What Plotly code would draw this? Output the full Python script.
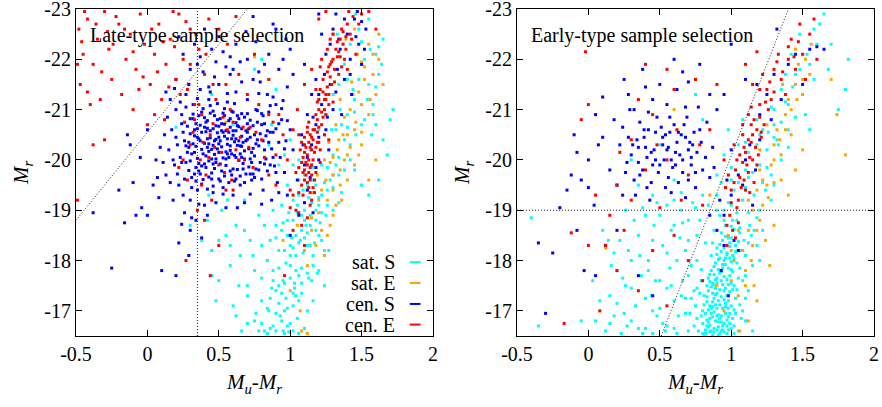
import plotly.graph_objects as go

# ---- data (M_u - M_r , M_r)
# left panel : late-type sample selection
late_satS = [
    (0.75,-16.8),(0.8,-17.2),(0.82,-16.6),(0.85,-17.0),(0.88,-16.7),(0.9,-17.4),(0.93,-16.9),(0.95,-16.6),(0.97,-17.25),(1.0,-16.75),
    (1.02,-17.1),(1.05,-16.85),(1.08,-17.35),(1.1,-16.65),(0.87,-17.45),(0.92,-17.15),(0.99,-16.58),(1.03,-17.45),(0.78,-16.6),(1.12,-17.0),
    (0.84,-16.55),(0.96,-17.0),(0.7,-17.5),(0.66,-16.6),(0.62,-16.9),(1.15,-17.6),
    (0.42,-18.8),(0.45,-18.2),(0.5,-17.6),(0.55,-18.5),(0.58,-17.9),(0.62,-18.7),(0.65,-18.1),(0.7,-17.3),(0.72,-18.4),(0.75,-17.8),
    (0.78,-18.9),(0.8,-18.3),(0.48,-17.2),(0.38,-18.4),(0.52,-19.0),(0.6,-17.1),(0.68,-19.2),(0.35,-19.0),(0.3,-18.7),(0.43,-19.3),(0.56,-19.2),
    (0.88,-17.8),(0.92,-18.2),(0.95,-17.6),(0.98,-18.5),(1.0,-17.9),(1.02,-18.8),(1.04,-18.1),(1.06,-17.7),(1.08,-18.6),(1.1,-19.0),
    (1.12,-18.3),(1.14,-18.9),(1.16,-17.9),(1.18,-18.6),(1.2,-19.1),(1.22,-18.4),(1.25,-18.9),(1.27,-18.2),(0.9,-18.7),(0.94,-19.1),
    (0.97,-17.95),(1.01,-18.45),(1.05,-18.95),(1.09,-18.15),(1.13,-17.65),(1.17,-18.35),(1.21,-18.75),(1.03,-17.55),(0.99,-18.95),(1.07,-18.4),
    (1.11,-18.7),(1.15,-19.15),(1.19,-17.75),(0.86,-18.4),(1.3,-19.0),(1.24,-17.5),
    (0.98,-19.5),(1.02,-19.9),(1.06,-19.3),(1.1,-19.7),(1.14,-20.2),(1.18,-19.5),(1.22,-19.9),(1.26,-19.4),(1.3,-20.1),(1.34,-19.7),
    (1.38,-20.4),(1.42,-20.0),(1.24,-20.5),(1.28,-19.6),(1.32,-20.6),(1.2,-19.25),(1.36,-19.35),(1.16,-19.85),(1.4,-20.65),(1.45,-19.8),
    (1.0,-20.4),(0.92,-19.9),(0.85,-20.3),(1.5,-19.5),(1.55,-19.3),
    (1.25,-20.9),(1.3,-21.3),(1.35,-21.0),(1.4,-21.6),(1.45,-21.2),(1.5,-21.9),(1.55,-21.5),(1.6,-22.1),(1.42,-22.3),(1.48,-22.6),
    (1.52,-20.8),(1.58,-21.1),(1.62,-21.7),(1.38,-21.9),(1.33,-22.5),(1.65,-22.4),(1.55,-22.8),(1.45,-20.95),(1.57,-20.5),(1.6,-20.7),
    (1.65,-20.4),(1.62,-19.6),(1.7,-20.8),
    (0.45,-21.3),(0.6,-20.7),(0.75,-21.8),(0.8,-22.0),(0.9,-21.4),(0.2,-20.65),(0.87,-20.7),
    (0.9,-16.6),(0.94,-16.8),(0.98,-17.05),(1.02,-16.6),(1.06,-17.2),(0.86,-17.25),(0.92,-17.5),(1.0,-17.65),(1.04,-17.8),(1.08,-17.55),
    (0.96,-18.2),(1.0,-18.3),(1.04,-18.5),(1.08,-18.9),(1.12,-18.55),(1.16,-18.1),(1.2,-18.5),(1.24,-18.2),(1.1,-18.45),(1.14,-18.7),
    (1.18,-19.0),(1.22,-19.3),(1.26,-19.1),(1.3,-19.45),(1.34,-19.15),(1.02,-19.2),(1.06,-19.6),(1.12,-19.5),(1.26,-19.85),(1.3,-19.7),
    (1.34,-20.05),(1.38,-19.8),(1.42,-20.3),(1.46,-20.5),(1.36,-20.7),(1.4,-20.9),(1.44,-21.4),(1.48,-21.6),(1.52,-22.0),(1.56,-22.2),
    (1.34,-21.5),(1.29,-20.6),(1.5,-20.7),(1.54,-21.2),(1.58,-20.9),(1.6,-21.45),(1.62,-22.25),(1.64,-21.9),(1.46,-22.9),(1.5,-22.35),
    (0.58,-18.3),(0.64,-17.5),(0.68,-18.6),(0.74,-18.1),(0.8,-17.65),(0.84,-18.0),(0.76,-16.95),(0.7,-16.75),(0.88,-19.0),(0.82,-18.7),
    (0.95,-18.75),(1.16,-19.6),(1.06,-20.0),(0.96,-20.1),(1.2,-20.6),(1.16,-17.2),(1.2,-17.8),(0.5,-18.4),(0.45,-17.7),(1.68,-20.1),(1.72,-21.0),
    (0.86,-16.65),(0.9,-16.95),(0.94,-17.35),(0.98,-16.7),(1.02,-17.35),(1.06,-16.55),(0.88,-17.6),(0.92,-17.85),(0.96,-17.55),(1.0,-18.1),
    (1.04,-17.3),(1.08,-17.85),(0.9,-18.45),(0.94,-18.6),(0.98,-18.8),(1.02,-18.25),(1.06,-18.35),(1.1,-18.8),(1.14,-18.3),(1.18,-18.8),
    (1.22,-18.95),(0.84,-17.05),(0.8,-16.75),(0.96,-16.55),(1.12,-17.75),(1.05,-19.1),(1.09,-19.4),(1.13,-19.25),(1.24,-19.55),(1.32,-19.9),
]
late_satE = [
    (1.2,-19.2),(1.25,-19.6),(1.28,-19.95),(1.3,-19.4),(1.33,-20.2),(1.35,-19.8),(1.37,-20.5),(1.4,-20.1),(1.3,-18.9),(1.22,-18.6),
    (1.18,-18.3),(1.15,-18.85),(1.26,-18.5),(1.1,-18.2),(1.05,-18.7),(1.12,-17.9),(1.38,-20.85),(1.42,-21.0),(1.45,-20.6),(1.48,-21.35),
    (1.5,-21.1),(1.52,-21.6),(1.55,-20.9),(1.58,-21.7),(1.5,-21.95),(1.47,-22.1),(1.43,-21.55),(1.55,-22.3),(1.6,-21.3),(1.62,-22.0),
    (1.65,-21.5),(1.35,-21.2),(1.32,-20.7),(1.27,-20.35),(1.24,-20.0),(1.4,-19.6),(1.45,-19.9),(1.36,-19.2),(1.19,-19.7),(1.16,-19.35),
    (1.08,-16.6),(1.12,-16.55),(1.0,-17.4),(1.07,-17.0),(0.95,-18.4),(0.7,-20.6),(0.75,-22.05),(0.55,-20.75),(1.5,-20.3),(1.55,-19.6),
    (1.6,-20.0),(1.3,-22.5),(1.39,-22.4),
    (1.22,-19.4),(1.26,-19.2),(1.3,-19.7),(1.34,-20.4),(1.38,-20.0),(1.42,-20.25),(1.46,-20.75),(1.5,-20.55),(1.44,-21.3),(1.52,-21.85),
    (1.56,-21.2),(1.35,-19.5),(1.28,-18.7),(1.2,-18.95),(1.15,-18.6),(1.24,-18.1),(1.4,-20.5),(1.3,-20.05),(1.32,-19.1),(1.48,-20.1),
    (1.58,-22.1),(1.62,-22.5),(1.45,-22.6),
]
late_cenS = [
    (0.31,-20.12),(0.35,-20.45),(0.38,-19.88),(0.42,-20.63),(0.45,-20.21),(0.48,-19.95),(0.51,-20.38),(0.54,-20.71),(0.57,-20.05),(0.6,-20.49),
    (0.63,-19.81),(0.66,-20.27),(0.69,-20.58),(0.72,-20.02),(0.28,-20.67),(0.33,-19.72),(0.36,-20.88),(0.4,-20.33),(0.43,-19.66),(0.46,-20.97),
    (0.49,-20.54),(0.52,-19.78),(0.55,-20.16),(0.58,-20.82),(0.61,-20.09),(0.64,-20.66),(0.67,-19.93),(0.7,-20.41),(0.27,-19.95),(0.3,-20.52),
    (0.34,-20.27),(0.37,-20.69),(0.41,-20.08),(0.44,-20.44),(0.47,-19.83),(0.5,-20.15),(0.53,-20.93),(0.56,-20.31),(0.59,-19.7),(0.62,-20.74),
    (0.65,-20.12),(0.68,-20.85),(0.74,-20.23),(0.26,-20.38),(0.32,-20.91),(0.39,-19.61),(0.42,-20.78),(0.46,-20.29),(0.5,-20.67),(0.53,-20.04),
    (0.57,-20.55),(0.61,-20.36),(0.64,-19.99),(0.68,-20.18),(0.72,-20.79),(0.75,-20.5),(0.29,-19.79),(0.35,-20.03),(0.44,-20.93),(0.48,-20.41),
    (0.52,-20.26),(0.55,-19.89),(0.59,-20.97),(0.63,-20.29),(0.66,-20.47),(0.71,-19.86),(0.38,-20.21),(0.41,-20.56),(0.47,-20.11),(0.51,-19.92),
    (0.58,-20.19),(0.62,-20.58),(0.45,-19.74),(0.36,-19.93),(0.54,-20.47),(0.4,-20.84),(0.33,-20.6),(0.6,-20.95),(0.49,-20.8),(0.43,-20.17),
    (0.17,-20.6),(0.19,-19.9),(0.21,-20.3),(0.2,-21.0),(0.22,-19.5),(0.24,-20.9),(0.25,-19.3),(0.27,-21.3),(0.3,-19.2),(0.32,-21.1),
    (0.35,-19.4),(0.37,-21.4),(0.4,-19.1),(0.43,-21.2),(0.46,-19.35),(0.5,-21.5),(0.53,-19.45),(0.56,-21.15),(0.6,-19.3),(0.62,-21.35),
    (0.65,-19.5),(0.7,-21.2),(0.73,-19.6),(0.76,-21.0),(0.78,-19.8),(0.8,-20.7),(0.82,-20.2),(0.84,-21.3),(0.86,-19.9),(0.88,-20.55),
    (0.9,-21.1),(0.92,-20.35),(0.94,-20.8),(0.96,-19.75),(0.98,-21.45),(1.0,-20.6),(0.79,-21.55),(0.85,-20.95),(0.91,-19.55),(0.77,-20.4),
    (0.81,-19.4),(0.74,-21.6),(0.66,-21.55),(0.58,-21.7),(0.47,-21.65),(0.39,-21.75),(0.29,-21.5),(0.15,-20.2),(0.13,-19.7),(0.18,-19.2),
    (0.12,-20.5),(0.16,-21.2),(0.26,-18.95),(0.34,-18.8),(0.42,-18.9),(0.3,-18.6),(0.38,-18.45),(0.55,-19.05),(0.68,-19.15),(0.87,-19.2),
    (0.25,-22.1),(0.35,-21.9),(0.45,-22.2),(0.55,-21.85),(0.62,-22.3),(0.7,-22.0),(0.78,-21.75),(0.85,-22.1),(0.92,-21.8),(0.97,-22.4),
    (0.4,-22.6),(0.65,-21.95),(0.3,-21.8),(0.5,-22.45),(0.88,-22.7),(0.74,-22.85),(0.2,-21.6),(0.58,-22.05),
    (-0.38,-18.95),(-0.25,-17.85),(-0.1,-19.55),(-0.04,-19.05),(0.0,-18.9),(0.1,-17.8),(0.2,-17.7),(-0.16,-18.75),(0.04,-19.5),(-0.05,-20.05),
    (0.0,-20.6),(-0.08,-18.9),(0.08,-19.25),(-0.2,-19.4),(-0.12,-20.3),(0.06,-20.0),(0.22,-18.35),(0.29,-18.1),(-0.14,-20.5),
    (1.05,-19.6),(1.1,-19.9),(1.15,-20.3),(1.12,-19.4),(1.18,-20.7),(1.2,-20.0),(1.08,-20.5),(1.22,-21.1),(1.25,-20.6),(1.28,-21.5),
    (1.3,-21.0),(1.33,-21.8),(1.35,-22.2),(1.38,-21.6),(1.4,-22.5),(1.42,-22.0),(1.45,-22.8),(1.48,-22.3),(1.5,-21.9),(1.3,-22.6),
    (1.25,-22.1),(1.18,-21.6),(1.15,-21.3),(1.02,-20.2),(0.98,-19.3),(1.06,-18.9),(1.0,-18.5),(1.12,-20.9),(1.27,-20.2),(1.36,-20.9),
    (1.43,-21.3),(1.53,-22.6),(1.2,-22.9),(1.47,-22.95),(1.1,-21.9),(1.0,-22.2),(1.32,-22.9),
    (0.2,-20.45),(0.23,-20.05),(0.24,-20.72),(0.26,-19.62),(0.27,-21.05),(0.29,-20.25),(0.31,-19.45),(0.32,-20.82),(0.34,-19.58),(0.35,-21.22),
    (0.37,-20.38),(0.38,-19.52),(0.39,-21.02),(0.41,-19.85),(0.42,-20.42),(0.44,-21.08),(0.45,-20.02),(0.46,-19.48),(0.48,-20.68),(0.49,-21.12),
    (0.5,-19.62),(0.52,-20.58),(0.53,-19.32),(0.54,-21.02),(0.56,-20.42),(0.57,-19.55),(0.58,-20.28),(0.6,-19.82),(0.61,-21.12),(0.62,-20.05),
    (0.63,-20.88),(0.65,-19.68),(0.66,-20.92),(0.67,-20.35),(0.69,-19.72),(0.7,-20.92),(0.71,-20.22),(0.73,-19.95),(0.74,-20.68),(0.76,-19.82),
    (0.77,-20.98),(0.78,-20.28),(0.8,-19.62),(0.81,-20.88),(0.83,-20.48),(0.84,-19.78),(0.86,-21.08),(0.87,-20.22),(0.89,-19.88),(0.9,-20.62),
    (0.93,-20.05),(0.95,-21.18),(0.97,-20.38),(0.28,-20.15),(0.33,-20.48),(0.36,-19.78),(0.4,-20.65),(0.43,-19.98),(0.47,-20.38),(0.51,-20.82),
    (0.55,-20.58),(0.59,-20.42),(0.64,-20.38),(0.68,-19.55),(0.72,-20.45),(0.75,-20.08),(0.79,-20.52),(0.82,-20.72),(0.85,-20.35),(0.88,-21.25),
    (0.3,-19.98),(0.34,-20.72),(0.38,-20.55),(0.42,-19.42),(0.46,-20.62),(0.5,-20.45),(0.54,-19.68),(0.58,-20.65),(0.62,-19.62),(0.66,-20.62),
    (0.7,-20.72),(0.74,-19.72),(0.78,-21.32),(0.82,-19.92),(0.86,-20.55),(0.9,-19.75),(0.94,-21.02),(0.98,-20.78),(0.18,-20.0),(0.21,-19.72),
    (0.23,-21.15),(0.25,-20.55),(0.16,-19.55),(0.14,-20.85),(0.11,-19.95),(0.09,-20.25),(0.07,-19.65),(0.13,-21.35),(0.19,-21.42),(0.24,-18.72),
    (0.31,-18.85),(0.36,-19.12),(0.48,-19.15),(0.63,-19.05),(0.72,-19.32),(0.8,-19.12),(0.92,-19.35),(1.02,-21.7),(0.95,-22.0),(0.82,-21.9),
    (0.69,-22.55),(0.53,-22.15),(0.43,-21.45),(0.33,-22.3),(0.22,-22.45),(0.6,-21.8),(0.76,-22.35),(0.9,-22.6),(0.48,-21.95),(0.37,-22.05),
    (0.29,-20.35),(0.31,-19.65),(0.33,-20.15),(0.35,-20.62),(0.37,-19.72),(0.39,-20.12),(0.41,-20.75),(0.43,-20.32),(0.45,-19.62),(0.47,-20.88),
    (0.49,-20.22),(0.51,-19.58),(0.53,-20.55),(0.55,-20.02),(0.57,-20.78),(0.59,-20.12),(0.61,-19.58),(0.63,-20.68),(0.65,-20.28),(0.67,-19.82),
    (0.69,-20.38),(0.71,-20.62),(0.73,-20.15),(0.75,-19.65),(0.77,-20.75),(0.79,-19.95),(0.81,-20.38),(0.83,-20.02),(0.32,-20.32),(0.36,-20.42),
    (0.4,-19.92),(0.44,-20.58),(0.48,-20.02),(0.52,-20.72),(0.56,-20.12),(0.6,-20.58),(0.64,-20.82),(0.68,-20.02),(0.72,-19.72),(0.76,-20.32),
    (0.34,-19.85),(0.38,-20.95),(0.42,-20.25),(0.46,-19.92),(0.5,-20.32),(0.54,-20.88),(0.58,-19.78),(0.62,-20.42),(0.66,-20.05),(0.7,-20.55),
    (0.27,-20.28),(0.3,-20.82),(0.24,-19.95),(0.8,-20.92),(0.84,-20.58),(0.88,-20.05),(0.92,-20.72),(0.96,-20.22),(0.44,-21.35),(0.56,-21.32),
    (1.12,-20.05),(1.16,-20.85),(1.2,-21.3),(1.24,-21.7),(1.28,-22.3),(1.34,-22.4),(1.38,-22.8),(1.42,-21.7),(1.46,-22.45),(1.26,-20.85),
    (1.18,-19.85),(1.14,-19.65),(1.09,-20.3),(1.2,-20.45),(1.32,-21.35),(1.22,-22.5),(1.5,-22.75),(1.52,-22.2),(1.1,-19.15),(1.16,-18.95),
]
late_cenE = [
    (-0.48,-22.6),(-0.45,-22.1),(-0.42,-22.8),(-0.38,-21.9),(-0.35,-22.4),(-0.3,-22.95),(-0.27,-22.2),(-0.25,-21.6),(-0.2,-22.7),(-0.18,-21.3),
    (-0.15,-22.0),(-0.12,-22.5),(-0.08,-21.8),(-0.05,-22.9),(-0.02,-22.3),(0.02,-21.5),(0.05,-22.1),(0.08,-22.7),(0.1,-21.2),(0.13,-21.9),
    (0.16,-22.4),(0.2,-21.6),(0.22,-22.9),(0.25,-22.0),(0.28,-21.4),(0.3,-22.6),(0.33,-21.1),(0.36,-22.2),(0.4,-21.7),(0.43,-22.8),
    (-0.47,-21.5),(-0.33,-21.2),(-0.22,-22.85),(-0.1,-21.0),(0.0,-20.7),(-0.3,-20.4),(0.05,-20.9),(-0.4,-21.1),(-0.46,-22.35),(-0.28,-22.55),
    (0.18,-22.95),(0.12,-20.8),(-0.06,-21.4),(0.3,-21.9),(0.38,-20.9),
    (-0.44,-22.95),(-0.36,-22.7),(-0.32,-21.75),(-0.24,-22.3),(-0.16,-22.6),(-0.1,-22.15),(-0.03,-21.65),(0.03,-22.6),(0.07,-21.75),(0.11,-22.35),
    (0.15,-21.45),(0.19,-22.25),(0.23,-21.3),(0.27,-22.75),(0.34,-22.5),(0.41,-22.1),(0.46,-21.5),(0.5,-22.6),(0.56,-22.3),(0.62,-22.85),
    (-0.49,-21.9),(-0.42,-21.35),(-0.38,-20.3),(-0.49,-19.2),
    (0.3,-20.3),(0.37,-20.0),(0.44,-20.5),(0.5,-19.9),(0.56,-20.6),(0.62,-20.2),(0.68,-20.0),(0.33,-20.8),(0.41,-19.7),(0.47,-20.25),
    (0.53,-20.85),(0.59,-19.6),(0.65,-20.45),(0.72,-20.65),(0.28,-19.6),(0.36,-21.1),(0.48,-21.2),(0.58,-21.0),(0.7,-21.3),(0.25,-20.0),
    (0.8,-20.4),(0.85,-19.7),(0.9,-20.1),(0.92,-20.9),(0.78,-21.1),(0.45,-19.2),(0.4,-18.8),(0.35,-19.0),(0.5,-18.3),(0.44,-17.7),
    (0.27,-18.0),(0.55,-21.5),(0.64,-21.7),(0.75,-22.1),(0.85,-21.6),(0.6,-19.4),
    (0.32,-20.55),(0.39,-20.35),(0.43,-20.05),(0.46,-20.72),(0.52,-20.15),(0.54,-19.75),(0.6,-20.75),(0.64,-20.0),(0.67,-20.65),(0.71,-20.25),
    (0.74,-19.85),(0.76,-20.55),(0.82,-20.05),(0.88,-20.75),(0.38,-19.5),(0.55,-19.4),(0.26,-20.75),(0.22,-19.85),
    (1.08,-19.5),(1.1,-19.8),(1.12,-20.1),(1.14,-19.6),(1.16,-20.4),(1.13,-20.0),(1.11,-20.25),(1.15,-19.9),(1.17,-20.15),(1.09,-20.05),
    (1.18,-19.75),(1.2,-20.35),(1.06,-19.85),(1.12,-20.55),(1.14,-19.35),(1.1,-20.3),(1.19,-20.55),(1.16,-19.45),(1.07,-20.2),(1.21,-19.95),
    (1.13,-20.75),(1.18,-20.9),(1.2,-21.0),(1.22,-20.7),(1.24,-21.2),(1.21,-21.4),(1.25,-20.9),(1.19,-21.15),(1.23,-21.6),(1.27,-21.3),
    (1.26,-21.75),(1.29,-21.5),(1.3,-22.0),(1.28,-21.9),(1.32,-22.2),(1.34,-21.7),(1.35,-22.4),(1.33,-22.05),(1.37,-22.3),(1.4,-22.7),
    (1.38,-22.0),(1.42,-22.5),(1.44,-22.85),(1.36,-22.6),(1.3,-22.5),(1.26,-22.2),(1.4,-21.8),(1.22,-22.0),(1.15,-21.8),(1.1,-21.5),
    (1.05,-21.0),(1.02,-20.6),(0.98,-20.0),(1.0,-19.4),(1.04,-19.0),(1.08,-18.7),(1.1,-18.3),(1.02,-18.6),(0.96,-17.7),(1.14,-19.1),
    (1.24,-20.5),(1.27,-20.4),(1.3,-21.15),(1.46,-22.1),(1.5,-22.9),(1.55,-22.95),(1.48,-22.7),(1.6,-22.6),(1.2,-22.8),(1.25,-22.95),
    (1.17,-20.6),(1.11,-19.95),(1.15,-20.2),(1.13,-19.75),(1.09,-19.3),(0.95,-20.5),(0.9,-19.5),(0.85,-20.9),
    (1.1,-19.6),(1.12,-19.9),(1.14,-20.25),(1.16,-20.0),(1.18,-20.25),(1.1,-20.45),(1.12,-19.55),(1.14,-20.5),(1.15,-19.7),(1.17,-19.35),
    (1.08,-19.95),(1.19,-20.35),(1.13,-20.35),(1.11,-19.7),(1.16,-20.6),(1.2,-20.65),(1.22,-20.95),(1.24,-21.0),(1.23,-21.35),(1.26,-21.45),
    (1.28,-21.65),(1.25,-21.2),(1.27,-21.1),(1.29,-21.95),(1.31,-21.8),(1.33,-22.35),(1.35,-22.05),(1.37,-22.55),(1.39,-22.2),(1.41,-22.95),
    (1.43,-22.4),(1.21,-21.85),(1.18,-21.4),(1.06,-20.5),(1.04,-19.75),(1.02,-19.3),(1.0,-19.05),(1.06,-18.95),(1.12,-18.85),(1.15,-19.2),
    (1.1,-20.15),(1.13,-19.45),(1.15,-20.45),(1.17,-19.6),(1.19,-20.8),(1.12,-20.65),(1.09,-19.75),(1.21,-20.2),(1.23,-20.85),(1.25,-21.3),
    (1.27,-21.85),(1.31,-21.55),(1.34,-22.15),(1.36,-21.85),(1.39,-22.45),(1.06,-19.35),(1.08,-20.35),(1.14,-19.85),(1.2,-21.2),(1.28,-22.4),
]

# right panel : early-type sample selection
early_satS = [
    (0.8,-16.55),(0.83,-16.7),(0.86,-16.6),(0.89,-16.8),(0.92,-16.55),(0.95,-16.75),(0.98,-16.62),(1.01,-16.85),(0.82,-16.95),(0.85,-17.1),
    (0.88,-16.98),(0.91,-17.2),(0.94,-17.05),(0.97,-17.3),(1.0,-17.1),(1.03,-17.25),(0.84,-17.4),(0.87,-17.55),(0.9,-17.35),(0.93,-17.6),
    (0.96,-17.45),(0.99,-17.7),(1.02,-17.5),(1.05,-17.65),(0.86,-17.8),(0.89,-17.95),(0.92,-17.75),(0.95,-18.0),(0.98,-17.85),(1.01,-18.1),
    (1.04,-17.95),(1.07,-18.2),(0.9,-18.25),(0.94,-18.4),(0.97,-18.15),(1.0,-18.45),(1.03,-18.3),(1.06,-18.55),(1.09,-18.4),(0.79,-16.9),
    (0.81,-17.3),(0.87,-16.52),(0.93,-16.9),(0.96,-17.15),(0.91,-16.68),(0.85,-16.85),(0.88,-17.25),(0.84,-17.65),(0.99,-16.95),(1.02,-16.7),
    (0.97,-16.55),(0.94,-17.85),(0.9,-17.65),(1.06,-17.85),(1.0,-17.55),(0.86,-18.1),(0.92,-18.05),(0.88,-16.65),(0.9,-16.9),(0.93,-16.6),
    (0.8,-17.0),(0.83,-17.18),(0.95,-17.4),(0.98,-17.2),(0.82,-16.55),(0.77,-16.6),(0.75,-17.1),(1.05,-16.6),(1.08,-17.0),(0.89,-17.45),
    (0.87,-17.08),(0.91,-16.78),(0.94,-16.7),(0.84,-16.78),
    (0.82,-16.62),(0.85,-16.72),(0.88,-16.58),(0.91,-16.92),(0.94,-16.62),(0.97,-16.82),(1.0,-16.65),(0.84,-17.02),(0.87,-17.18),(0.9,-17.05),
    (0.93,-17.28),(0.96,-17.08),(0.99,-17.38),(1.02,-17.02),(0.86,-17.48),(0.89,-17.62),(0.92,-17.42),(0.95,-17.68),(0.98,-17.52),(1.01,-17.78),
    (0.88,-17.88),(0.91,-18.02),(0.94,-17.92),(0.97,-18.12),(1.0,-17.98),(1.03,-18.18),(0.92,-18.32),(0.96,-18.48),(0.99,-18.28),(1.02,-18.62),
    (1.05,-18.38),(0.83,-16.82),(0.86,-16.95),(0.89,-17.12),(0.92,-16.85),(0.95,-16.58),(0.98,-16.88),(0.81,-17.12),(0.87,-17.35),(0.9,-17.55),
    (0.93,-17.78),(0.96,-17.92),(0.99,-18.05),(0.85,-17.58),(0.88,-17.72),(1.04,-17.42),(1.06,-17.12),(0.8,-16.75),(0.78,-17.35),(0.76,-16.85),
    (0.79,-17.6),(1.08,-17.6),(1.1,-18.1),(1.03,-16.95),(0.97,-16.7),(0.91,-16.52),(0.85,-16.58),(0.83,-17.5),(0.95,-18.25),(1.01,-18.8),(0.98,-19.15),
    (0.81,-16.52),(0.84,-16.68),(0.87,-16.88),(0.9,-16.62),(0.93,-16.78),(0.96,-16.95),(0.99,-16.75),(1.02,-16.55),(0.83,-17.28),(0.86,-17.05),
    (0.89,-17.32),(0.92,-17.12),(0.95,-17.22),(0.98,-17.05),(1.01,-17.42),(0.85,-17.72),(0.88,-17.52),(0.91,-17.82),(0.94,-17.52),(0.97,-17.62),
    (1.0,-17.82),(0.9,-18.12),(0.93,-18.18),(0.96,-18.05),(0.99,-18.35),(1.02,-18.05),(0.87,-18.35),(0.93,-18.55),(1.0,-18.68),(1.04,-18.95),
    (0.95,-18.8),(0.9,-19.0),(0.79,-17.82),(0.76,-17.45),(0.74,-16.7),(1.07,-16.85),(1.1,-17.25),(1.12,-18.35),(1.16,-18.6),(0.68,-17.25),
    (0.55,-16.7),(0.6,-17.2),(0.63,-16.9),(0.66,-17.6),(0.7,-16.6),(0.72,-17.9),(0.74,-17.4),(0.68,-18.2),(0.62,-18.0),(0.58,-17.5),
    (0.76,-18.5),(0.71,-16.95),(1.1,-16.8),(1.12,-17.4),(1.15,-17.9),(1.18,-18.3),(1.13,-18.7),(1.1,-17.7),(1.2,-18.0),(1.15,-16.6),(1.22,-18.6),
    (0.12,-16.6),(0.15,-17.3),(0.18,-16.9),(0.2,-17.8),(0.23,-16.55),(0.26,-17.5),(0.28,-18.2),(0.3,-16.8),(0.33,-17.1),(0.35,-18.5),
    (0.37,-17.7),(0.4,-16.65),(0.42,-18.0),(0.44,-17.3),(0.46,-18.7),(0.48,-16.9),(0.5,-17.6),(0.52,-18.3),(0.54,-16.6),(0.38,-16.55),
    (0.22,-18.4),(0.16,-17.9),(0.08,-17.2),(0.05,-16.8),(0.45,-17.0),(0.32,-18.8),(0.5,-18.9),(0.55,-19.1),(0.6,-18.7),(0.65,-19.0),
    (0.7,-18.8),(0.75,-19.05),(0.4,-18.9),(-0.35,-16.7),(-0.4,-18.85),(-0.05,-16.8),(0.1,-18.6),(0.27,-16.7),
    (0.15,-16.75),(0.2,-17.15),(0.25,-16.95),(0.3,-17.45),(0.35,-16.65),(0.4,-17.25),(0.45,-16.55),(0.5,-17.05),(0.55,-17.45),(0.6,-16.65),
    (0.65,-17.3),(0.7,-17.7),(0.62,-16.55),(0.68,-16.95),(0.72,-17.25),(0.57,-17.85),(0.52,-16.75),(0.47,-17.6),(0.42,-17.8),(0.36,-18.1),
    (0.3,-18.0),(0.24,-17.65),(0.18,-18.15),(0.64,-18.45),(0.58,-18.6),(0.7,-18.4),(0.76,-18.0),(0.78,-18.8),(0.82,-18.35),(0.45,-18.4),
    (0.38,-19.05),(0.55,-18.15),(0.6,-19.2),(0.66,-18.75),(0.73,-19.15),(0.8,-19.3),(0.14,-18.4),(0.03,-17.6),(0.26,-19.0),(0.48,-19.15),
    (0.88,-18.6),(0.92,-18.9),(0.96,-18.7),(1.0,-19.1),(1.04,-18.8),(1.08,-19.2),(1.12,-18.95),(1.16,-19.3),(1.2,-19.0),(1.24,-19.4),
    (0.9,-19.3),(0.95,-19.0),(1.02,-19.4),(1.06,-18.65),(1.1,-19.45),(1.14,-18.5),(1.18,-18.85),(0.84,-19.1),(1.28,-19.2),(0.98,-18.45),
    (0.9,-19.7),(0.95,-20.1),(1.0,-19.6),(1.05,-20.3),(1.1,-19.8),(1.15,-20.5),(1.2,-19.9),(1.25,-20.2),(1.3,-20.7),(1.35,-20.0),
    (0.98,-20.6),(1.08,-20.8),(1.18,-20.3),(1.28,-19.7),(1.22,-20.6),(1.12,-20.15),(0.93,-19.55),(1.32,-20.4),
    (1.0,-19.85),(1.05,-19.55),(1.1,-20.35),(1.15,-19.75),(1.2,-20.5),(1.25,-19.85),(1.3,-20.45),(1.35,-20.75),(1.4,-20.6),(1.28,-21.05),
    (1.33,-20.3),(1.38,-21.15),(1.43,-21.45),(1.48,-21.8),(1.53,-22.1),(1.58,-22.6),(1.22,-19.55),(1.26,-20.55),(1.18,-20.8),(1.12,-19.65),
    (1.3,-19.5),(1.4,-20.25),(1.55,-20.6),(1.68,-21.8),
    (1.3,-21.0),(1.35,-21.4),(1.4,-21.1),(1.45,-21.7),(1.5,-21.3),(1.55,-21.9),(1.6,-22.3),(1.42,-22.1),(1.38,-21.7),(1.48,-22.5),
    (1.58,-21.6),(1.52,-20.9),(1.62,-22.7),(1.65,-22.9),(1.8,-21.4),(1.82,-22.0),(1.7,-22.3),(1.45,-20.85),(1.75,-21.0),
    (0.35,-19.5),(0.45,-19.3),(0.6,-19.6),(0.7,-20.2),(0.8,-20.8),(0.75,-21.3),(0.5,-20.3),(0.3,-20.0),(0.65,-19.35),
]
early_satE = [
    (1.05,-17.3),(1.1,-17.8),(1.08,-18.2),(1.12,-18.6),(1.15,-19.0),(1.18,-19.4),(1.2,-19.8),(1.22,-19.1),(1.25,-19.5),(1.28,-19.9),
    (1.3,-20.3),(1.32,-20.6),(1.35,-20.1),(1.38,-20.9),(1.4,-21.2),(1.42,-20.5),(1.45,-21.5),(1.47,-21.9),(1.5,-21.3),(1.52,-22.0),
    (1.55,-21.7),(1.45,-22.2),(1.0,-17.6),(0.95,-17.0),(1.02,-18.0),(0.98,-18.5),(1.15,-18.3),(1.2,-18.8),(1.25,-20.7),(1.35,-19.6),
    (1.12,-16.8),(1.18,-17.2),(1.06,-16.6),(1.8,-20.1),(1.74,-20.9),(1.7,-21.6),(1.5,-20.2),(1.45,-19.8),(1.4,-19.3),(1.3,-18.7),
    (1.27,-17.9),(0.6,-21.0),(0.12,-18.25),(0.85,-19.3),(0.9,-17.5),
    (1.1,-17.5),(1.14,-18.0),(1.18,-18.6),(1.22,-19.6),(1.26,-19.25),(1.3,-20.0),(1.34,-20.4),(1.38,-20.6),(1.42,-21.0),(1.46,-21.2),
    (1.05,-18.6),(1.0,-18.2),(1.16,-17.5),(1.24,-18.4),(1.3,-19.55),(1.36,-21.5),(1.5,-21.6),(1.56,-22.3),(1.12,-19.2),(1.2,-20.2),
]
early_cenS = [
    (0.3,-20.1),(0.34,-20.4),(0.38,-19.8),(0.42,-20.6),(0.46,-20.2),(0.5,-19.9),(0.54,-20.5),(0.58,-20.0),(0.62,-20.35),(0.66,-19.75),
    (0.7,-20.2),(0.74,-20.55),(0.32,-19.6),(0.36,-20.75),(0.4,-20.25),(0.44,-19.55),(0.48,-20.85),(0.52,-20.3),(0.56,-19.65),(0.6,-20.7),
    (0.64,-20.1),(0.68,-20.45),(0.72,-19.9),(0.76,-20.15),(0.28,-20.45),(0.35,-19.95),(0.41,-20.05),(0.47,-20.55),(0.53,-20.0),(0.57,-20.85),
    (0.63,-19.55),(0.67,-20.7),(0.73,-20.3),(0.8,-19.8),(0.26,-19.75),(0.39,-20.45),(0.45,-19.9),(0.51,-20.65),(0.55,-20.2),(0.61,-19.9),
    (0.65,-20.5),(0.7,-19.6),(0.78,-20.6),(0.82,-20.05),(0.22,-20.3),(0.2,-19.5),(0.18,-20.8),(0.33,-19.3),(0.43,-19.2),(0.58,-19.35),
    (0.68,-19.25),(0.75,-19.45),(0.85,-19.65),
    (0.31,-20.3),(0.36,-19.7),(0.39,-20.6),(0.44,-20.15),(0.49,-19.75),(0.52,-20.45),(0.56,-20.25),(0.59,-19.85),(0.63,-20.55),(0.66,-20.0),
    (0.69,-20.85),(0.71,-20.35),(0.75,-19.75),(0.79,-20.35),(0.83,-20.75),(0.27,-19.95),(0.24,-20.65),(0.29,-21.0),(0.41,-19.45),(0.47,-20.0),
    (0.54,-19.45),(0.61,-20.15),(0.72,-20.05),(0.77,-21.05),(0.35,-20.25),(0.57,-20.55),(0.87,-20.25),(0.24,-19.3),(0.4,-21.45),(0.66,-21.75),
    (0.25,-21.6),(0.32,-21.0),(0.38,-21.8),(0.45,-21.2),(0.5,-21.5),(0.55,-21.1),(0.62,-21.4),(0.7,-21.55),(0.78,-21.9),(0.85,-21.3),
    (0.6,-22.0),(0.42,-20.95),(0.68,-21.05),(0.28,-21.3),(0.1,-21.25),(0.05,-20.9),(0.9,-21.0),
    (-0.35,-18.35),(-0.3,-16.95),(-0.25,-18.15),(-0.2,-19.05),(-0.12,-19.7),(-0.1,-20.5),(-0.08,-20.15),(-0.05,-19.6),(0.0,-19.45),(0.0,-20.0),
    (0.04,-19.1),(0.07,-20.3),(0.1,-20.45),(-0.15,-19.4),(0.12,-18.3),(0.2,-18.6),(0.15,-19.8),(-0.08,-18.6),(0.05,-17.7),(-0.03,-17.8),
    (0.45,-17.3),(0.35,-17.7),
    (0.9,-18.6),(0.95,-18.9),(1.0,-19.3),(1.05,-19.7),(1.1,-20.0),(0.92,-19.2),(0.97,-19.6),(1.02,-18.4),(1.08,-19.5),(1.13,-20.3),
    (1.17,-19.8),(0.88,-19.85),(1.0,-20.2),(0.95,-18.3),(1.05,-18.2),(0.85,-18.9),(1.2,-20.4),(1.15,-19.1),(0.93,-17.8),(0.98,-17.3),
    (1.2,-20.9),(1.25,-21.3),(1.3,-21.7),(1.35,-21.2),(1.4,-21.9),(1.45,-22.1),(1.5,-21.5),(1.55,-22.2),(1.6,-22.25),(1.65,-22.2),
    (1.32,-22.6),(1.18,-21.5),(1.28,-20.8),(1.1,-21.6),(1.0,-22.3),(0.95,-21.3),
]
early_cenE = [
    (1.0,-19.4),(1.03,-19.8),(1.06,-20.1),(1.09,-19.6),(1.12,-20.4),(1.15,-20.0),(1.18,-20.6),(1.05,-19.2),(1.08,-20.5),(1.11,-19.9),
    (1.14,-20.7),(1.17,-20.25),(1.2,-20.85),(1.02,-20.3),(0.98,-19.7),(1.13,-19.35),(1.16,-19.55),(1.1,-20.15),(1.07,-19.45),(1.21,-20.45),
    (1.04,-19.05),(0.99,-18.9),(1.01,-18.6),(0.97,-18.3),(1.05,-18.75),(0.95,-20.0),(1.19,-20.1),(1.23,-20.7),(1.26,-21.0),(1.12,-20.9),
    (1.08,-19.95),(1.14,-20.35),
    (1.06,-19.65),(1.09,-20.25),(1.12,-19.75),(1.15,-20.5),(1.18,-19.9),(1.21,-20.55),(1.13,-20.05),(1.1,-19.4),(1.16,-20.8),(1.04,-20.0),
    (1.0,-19.15),(0.97,-18.7),(1.03,-18.45),(1.24,-21.15),(1.27,-21.55),(1.3,-21.35),(1.32,-21.95),(1.36,-21.75),(1.4,-22.25),(1.44,-22.05),
    (1.47,-22.35),(1.2,-21.4),(1.14,-21.05),(1.08,-20.7),(1.02,-19.55),(0.96,-19.45),
    (1.2,-21.1),(1.25,-21.4),(1.3,-21.8),(1.28,-21.2),(1.35,-21.6),(1.4,-22.0),(1.38,-21.3),(1.45,-21.8),(1.5,-22.1),(1.42,-22.4),
    (1.55,-22.5),(1.58,-22.8),(1.48,-22.7),(1.33,-22.1),(1.22,-21.7),(1.15,-21.5),(1.6,-22.0),(1.52,-21.6),(1.18,-22.15),(1.1,-21.9),
    (0.3,-20.4),(0.4,-19.8),(0.48,-20.3),(0.55,-20.0),(0.62,-20.6),(0.7,-19.7),(0.78,-20.3),(0.35,-21.2),(0.45,-20.9),(0.6,-21.4),
    (0.75,-21.6),(0.55,-21.8),(0.4,-21.9),(0.22,-20.15),(0.2,-19.5),(0.3,-19.2),(0.65,-19.2),(0.8,-19.1),(0.85,-20.6),(0.9,-21.5),
    (-0.02,-22.15),(0.0,-21.1),(-0.05,-20.8),(0.05,-19.3),(-0.12,-18.55),(0.0,-18.3),(0.12,-18.3),(0.2,-17.8),(0.08,-17.0),(-0.17,-16.75),
    (0.15,-18.9),(0.5,-19.05),(0.45,-18.2),(0.6,-18.5),(0.7,-18.0),(0.8,-17.6),(0.35,-17.4),(0.55,-17.1),(0.25,-18.6),
]

# selection cuts (dotted lines)
late_cut_diag_x = [-0.5, 0.7]
late_cut_diag_y = [-18.8, -23.0]
late_cut_vert_x = [0.35, 0.35]
late_cut_vert_y = [-16.5, -23.0]
early_cut_diag_x = [0.51, 1.40]
early_cut_diag_y = [-16.5, -23.0]
early_cut_hor_x = [-0.5, 2.0]
early_cut_hor_y = [-19.0, -19.0]

names = ["sat. S", "sat. E", "cen. S", "cen. E"]
colors = ["#00ffff", "#ffa500", "#0000ff", "#ff0000"]

x_ticks = [-0.5, 0, 0.5, 1, 1.5, 2]
x_ticktext = ["-0.5", "0", "0.5", "1", "1.5", "2"]
y_ticks = [-23, -22, -21, -20, -19, -18, -17]
y_ticktext = ["-23", "-22", "-21", "-20", "-19", "-18", "-17"]

FONT = "Liberation Serif, Times New Roman, serif"

fig = go.Figure()

panels = [
    ("x", "y", [late_satS, late_satE, late_cenS, late_cenE]),
    ("x2", "y2", [early_satS, early_satE, early_cenS, early_cenE]),
]
for xa, ya, sets in panels:
    for pts, nm, col in zip(sets, names, colors):
        fig.add_trace(go.Scatter(
            x=[p[0] for p in pts], y=[p[1] for p in pts],
            mode="markers", name=nm, showlegend=False,
            marker=dict(symbol="square", size=3, color=col, line=dict(width=0)),
            xaxis=xa, yaxis=ya))

dot = dict(color="#222222", width=1, dash="1px,2px")
for xs, ys, xa, ya in [(late_cut_diag_x, late_cut_diag_y, "x", "y"),
                       (late_cut_vert_x, late_cut_vert_y, "x", "y"),
                       (early_cut_diag_x, early_cut_diag_y, "x2", "y2"),
                       (early_cut_hor_x, early_cut_hor_y, "x2", "y2")]:
    fig.add_trace(go.Scatter(x=xs, y=ys, mode="lines", line=dot, showlegend=False,
                             hoverinfo="skip", xaxis=xa, yaxis=ya))

ax = dict(showgrid=False, zeroline=False, showline=True, linecolor="black", linewidth=1,
          mirror="ticks", ticks="inside", ticklen=6, tickcolor="black", automargin=False,
          ticklabeloverflow="allow",
          tickfont=dict(family=FONT, size=20, color="black"))
xt = dict(text="<i>M</i><sub><i>u</i></sub>-<i>M</i><sub><i>r</i></sub>",
          font=dict(family=FONT, size=21, color="black"), standoff=10)
yt = dict(text="<i>M</i><sub><i>r</i></sub>", font=dict(family=FONT, size=21, color="black"), standoff=9)

fig.update_layout(
    width=882, height=407,
    margin=dict(l=0, r=0, t=0, b=0),
    paper_bgcolor="white", plot_bgcolor="white",
    xaxis=dict(ax, domain=[76/882, 433/882], range=[-0.5, 2], tickvals=x_ticks, ticktext=x_ticktext,
               title=xt, anchor="y"),
    yaxis=dict(ax, domain=[71/407, 398/407], range=[-16.5, -23], tickvals=y_ticks, ticktext=y_ticktext,
               title=yt, anchor="x"),
    xaxis2=dict(ax, domain=[517/882, 874/882], range=[-0.5, 2], tickvals=x_ticks, ticktext=x_ticktext,
                title=xt, anchor="y2"),
    yaxis2=dict(ax, domain=[71/407, 398/407], range=[-16.5, -23], tickvals=y_ticks, ticktext=y_ticktext,
                title=yt, anchor="x2"),
)

tfont = dict(family=FONT, size=20, color="black")
fig.add_annotation(text="Late-type sample selection", xref="x domain", yref="y domain",
                   x=0.035, y=0.92, xanchor="left", yanchor="middle", showarrow=False, font=tfont)
fig.add_annotation(text="Early-type sample selection", xref="x2 domain", yref="y2 domain",
                   x=0.035, y=0.92, xanchor="left", yanchor="middle", showarrow=False, font=tfont)

# legend in the lower right corner of the left panel (text then line sample)
leg_y = [0.226, 0.162, 0.098, 0.035]
for nm, col, ly in zip(names, colors, leg_y):
    fig.add_annotation(text=nm, xref="x domain", yref="y domain", x=0.898, y=ly,
                       xanchor="right", yanchor="middle", showarrow=False, font=tfont)
    fig.add_shape(type="line", xref="x domain", yref="y domain", x0=0.935, x1=0.965, y0=ly, y1=ly,
                  line=dict(color=col, width=2))

# the page body has a default margin; drop it so the figure sits at the top-left corner
fig.write_html("out.html", config={"displayModeBar": False},
               post_script="document.body.style.margin='0';")
